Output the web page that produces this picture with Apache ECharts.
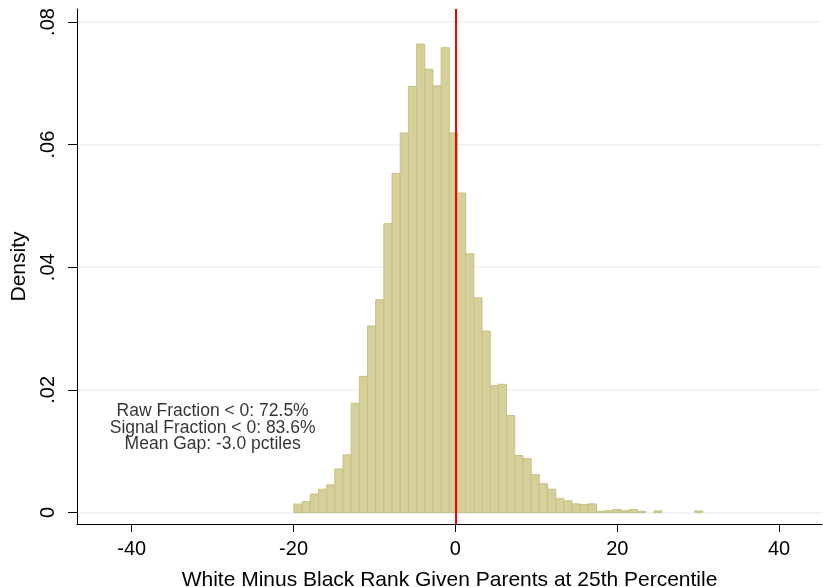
<!DOCTYPE html>
<html>
<head>
<meta charset="utf-8">
<script src="https://cdn.jsdelivr.net/npm/echarts@6/dist/echarts.min.js"></script>
<style>html,body{margin:0;padding:0;background:#fff}#c{width:823px;height:587px}</style>
</head>
<body>
<div id="c"></div>
<script>
// Histogram bins: left edge of first bin and common bin width
const binStart = -19.96;
const binWidth = 1.011;
// Density of each bin
const density = [
  0.00137, 0.0018, 0.0030, 0.0038, 0.0045, 0.0071, 0.0094, 0.0178, 0.0222, 0.0304,
  0.0347, 0.0471, 0.0553, 0.0619, 0.0695, 0.0764, 0.0723, 0.0696, 0.0758, 0.0619,
  0.0521, 0.0422, 0.0350, 0.0296, 0.0207, 0.0209, 0.0158, 0.0093, 0.0088, 0.0062,
  0.0047, 0.0038, 0.0023, 0.0019, 0.0014, 0.0013, 0.0014, 0.0002, 0.0003, 0.0005,
  0.0003, 0.0005, 0.0002, 0, 0.00025, 0, 0, 0, 0, 0.00025
];
const xTicks = [-40, -20, 0, 20, 40];
const yTicks = [0, 0.02, 0.04, 0.06, 0.08];
const yTickLabels = ['0', '.02', '.04', '.06', '.08'];
const refLineX = 0;
const noteLines = ['Raw Fraction < 0: 72.5%', 'Signal Fraction < 0: 83.6%', 'Mean Gap: -3.0 pctiles'];
const notePos = [-30, 0.0138];

const bins = density.map((d, i) => [binStart + i * binWidth, binStart + (i + 1) * binWidth, d]);

const chart = echarts.init(document.getElementById('c'), null, {renderer: 'canvas'});
const FONT = 'Liberation Sans, Arial, sans-serif';
chart.setOption({
  animation: false,
  backgroundColor: '#ffffff',
  grid: {left: 77, right: 1, top: 9, bottom: 63, containLabel: false, outerBoundsMode: 'none'},
  xAxis: {
    type: 'value', min: -46.76, max: 45.3,
    name: 'White Minus Black Rank Given Parents at 25th Percentile',
    nameLocation: 'middle', nameGap: 46,
    nameTextStyle: {fontFamily: FONT, fontSize: 21, color: '#000'},
    axisLine: {onZero: false, lineStyle: {color: '#000', width: 1}},
    axisTick: {show: true, length: 8, customValues: xTicks, lineStyle: {color: '#000'}},
    axisLabel: {customValues: xTicks, margin: 15, fontFamily: FONT, fontSize: 20, color: '#000'},
    splitLine: {show: false}
  },
  yAxis: {
    type: 'value', min: -0.00188, max: 0.08212,
    name: 'Density', nameLocation: 'middle', nameGap: 47, nameRotate: 90,
    nameTextStyle: {fontFamily: FONT, fontSize: 21, color: '#000'},
    axisLine: {show: true, onZero: false, lineStyle: {color: '#000', width: 1}},
    axisTick: {show: true, length: 9, customValues: yTicks, lineStyle: {color: '#000'}},
    axisLabel: {
      customValues: yTicks, rotate: 90, margin: 19, fontFamily: FONT, fontSize: 20, color: '#000',
      formatter: v => { const i = yTicks.findIndex(t => Math.abs(t - v) < 1e-9); return i >= 0 ? yTickLabels[i] : ''; }
    },
    splitLine: {show: true, lineStyle: {color: '#eaf2f3', width: 1.5}}
  },
  series: [
    {
      type: 'custom',
      data: bins,
      encode: {x: [0, 1], y: 2},
      renderItem: function (params, api) {
        const p0 = api.coord([api.value(0), api.value(2)]);
        const p1 = api.coord([api.value(1), 0]);
        if (api.value(2) <= 0) return null;
        return {
          type: 'rect',
          shape: {x: p0[0], y: p0[1], width: p1[0] - p0[0], height: p1[1] - p0[1]},
          style: {fill: '#d5cf9a', stroke: '#c8c184', lineWidth: 1}
        };
      },
      z: 2,
      markLine: {
        silent: true, symbol: 'none', z: 5,
        label: {show: false},
        lineStyle: {color: '#ff0000', width: 2, type: 'solid'},
        data: [{xAxis: refLineX}]
      }
    },
    {
      type: 'scatter',
      data: [notePos],
      symbolSize: 0,
      z: 6,
      label: {
        show: true, position: 'inside', formatter: noteLines.join('\n'),
        fontFamily: FONT, fontSize: 17.5, lineHeight: 16.5, color: '#000',
        textBorderWidth: 0, align: 'center', verticalAlign: 'middle'
      }
    }
  ]
});
</script>
</body>
</html>
